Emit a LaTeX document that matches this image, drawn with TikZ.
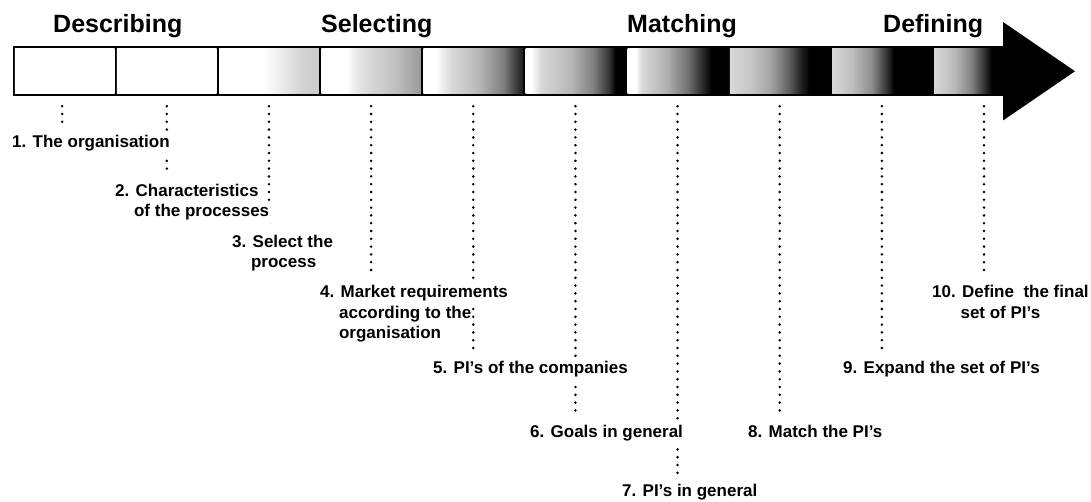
\documentclass[tikz,border=0pt]{standalone}
\usepackage{fontspec}
\setmainfont{Liberation Sans}

% Horizontal fills of the ten stage boxes (the box spans 25bp..75bp)
\pgfdeclarehorizontalshading{stagei}{100bp}{color(0bp)=(white); color(100bp)=(white)}
\pgfdeclarehorizontalshading{stageiii}{100bp}{color(0bp)=(white); color(47.5bp)=(white); color(67.5bp)=(black!18); color(75bp)=(black!20); color(100bp)=(black!20)}
\pgfdeclarehorizontalshading{stageiv}{100bp}{color(0bp)=(white); color(37.5bp)=(white); color(45bp)=(black!12); color(62.5bp)=(black!25); color(75bp)=(black!40); color(100bp)=(black!40)}
\pgfdeclarehorizontalshading{stagev}{100bp}{color(0bp)=(white); color(31bp)=(white); color(39bp)=(black!15); color(52.5bp)=(black!28); color(65bp)=(black!50); color(72.5bp)=(black!80); color(75bp)=(black!88); color(100bp)=(black!88)}
\pgfdeclarehorizontalshading{stagevi}{100bp}{color(0bp)=(white); color(28bp)=(white); color(32.5bp)=(black!15); color(47.5bp)=(black!28); color(59bp)=(black!50); color(67bp)=(black!80); color(70bp)=(black); color(100bp)=(black)}
\pgfdeclarehorizontalshading{stagevii}{100bp}{color(0bp)=(white); color(29bp)=(white); color(32bp)=(black!15); color(44bp)=(black!30); color(55bp)=(black!55); color(63bp)=(black!85); color(67bp)=(black); color(100bp)=(black)}
\pgfdeclarehorizontalshading{stageviii}{100bp}{color(0bp)=(black!15); color(25bp)=(black!15); color(35bp)=(black!22); color(45bp)=(black!35); color(54bp)=(black!60); color(61bp)=(black!88); color(65bp)=(black); color(100bp)=(black)}
\pgfdeclarehorizontalshading{stageix}{100bp}{color(0bp)=(black!15); color(25bp)=(black!15); color(35bp)=(black!25); color(45bp)=(black!45); color(52.5bp)=(black!80); color(56bp)=(black); color(100bp)=(black)}
\pgfdeclarehorizontalshading{stagex}{100bp}{color(0bp)=(black!15); color(25bp)=(black!15); color(35bp)=(black!27); color(44bp)=(black!50); color(51bp)=(black!85); color(54bp)=(black); color(100bp)=(black)}

\pgfdeclarelayer{canvas}
\pgfdeclarelayer{leaders}
\pgfsetlayers{canvas,leaders,main}

\begin{document}
\begin{tikzpicture}[x=1pt,y=-1pt,
  stagebox/.style={minimum width=99.7pt, minimum height=45.5pt, inner sep=0pt, draw=none},
  phase/.style={font=\fontsize{25}{30}\selectfont\bfseries, anchor=base west, inner sep=0pt},
  lab/.style={font=\fontsize{17}{20}\selectfont\bfseries, anchor=base west, inner xsep=1pt, inner ysep=4pt, fill=white},
  labcont/.style={lab, fill=none},
  dotline/.style={line width=2.8pt, line cap=round, dash pattern=on 0pt off 7.8pt, shorten <=12pt}]

% canvas
\begin{pgfonlayer}{canvas}
\fill[white] (0,0) rectangle (1091,502);
\end{pgfonlayer}
\useasboundingbox (0,0) rectangle (1091,502);

% the process bar
\fill[black] (12.5,46) rectangle (1010,96.5);
\foreach \k/\s in {1/stagei,2/stagei,3/stageiii,4/stageiv,5/stagev,6/stagevi,7/stagevii,8/stageviii,9/stageix,10/stagex}
  \node[stagebox, shading=\s] (b\k) at ({64.65+102.15*(\k-1)},71.25) {};
\fill[black] (1003,22) -- (1075,71.25) -- (1003,120.5) -- cycle;

% phase headings
\node[phase] (hdesc) at (53,33) {Describing};
\node[phase] (hsel)  at (321,33) {Selecting};
\node[phase] (hmat)  at (627,33) {Matching};
\node[phase] (hdef)  at (883,33) {Defining};

% step labels; their white ground hides the leaders they cross
\node[lab] (l1) at (11,148) {1. The organisation};
\node[lab] (l2) at (114,197) {2. Characteristics};
\node[lab] (l2b) at (114,217) {\hphantom{2.\ }of the processes};
\node[lab] (l3) at (231,248) {3. Select the};
\node[labcont] (l3b) at (231,268) {\hphantom{3.\ }process};
\node[lab] (l4) at (319,298) {4. Market requirements};
\node[labcont] (l4b) at (319,318) {\hphantom{4.\ }according to the};
\node[labcont] (l4c) at (319,338) {\hphantom{4.\ }organisation};
\node[lab] (l5) at (432,373) {5. PI’s of the companies};
\node[lab] (l6) at (529,437) {6. Goals in general};
\node[lab] (l7) at (621,496) {7. PI’s in general};
\node[lab] (l8) at (747,437) {8. Match the PI’s};
\node[lab] (l9) at (842,373) {9. Expand the set of PI’s};
\node[lab] (l10) at (931,298) {10. Define\ \ the final};
\node[labcont] (l10b) at (931,318) {\hphantom{10.\ }set of PI’s};

% dotted leaders from each box down to its step
\begin{pgfonlayer}{leaders}
\draw[dotline, shorten >=9.6pt] ([xshift=-2.5pt]b1.south) -- ([xshift=-2.5pt]b1.south |- l1.north);
\draw[dotline, shorten >=11pt] (b2.south) -- (b2.south |- l2.north);
\draw[dotline, shorten >=1pt] (b3.south) -- (b3.south |- l3.north);
\draw[dotline, shorten >=10pt] (b4.south) -- (b4.south |- l4.north);
\draw[dotline, shorten >=7.6pt] (b5.south) -- (b5.south |- l5.north);
\draw[dotline, shorten >=9.6pt] (b6.south) -- (b6.south |- l6.north);
\draw[dotline, shorten >=5.6pt] (b7.south) -- (b7.south |- l7.north);
\draw[dotline, shorten >=6.6pt] (b8.south) -- (b8.south |- l8.north);
\draw[dotline, shorten >=7.6pt] (b9.south) -- (b9.south |- l9.north);
\draw[dotline, shorten >=9.6pt] (b10.south) -- (b10.south |- l10.north);
\end{pgfonlayer}
\end{tikzpicture}
\end{document}
